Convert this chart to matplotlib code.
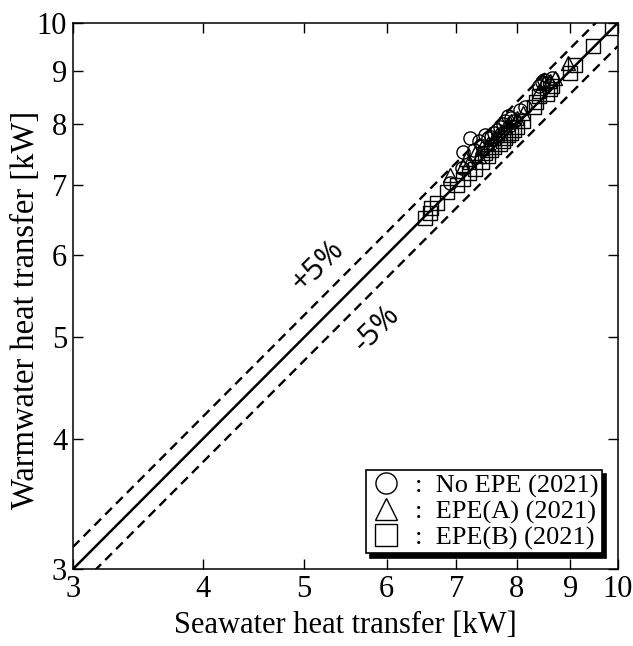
import numpy as np
import matplotlib
matplotlib.use("Agg")
import matplotlib.pyplot as plt
from matplotlib.ticker import FixedLocator, FixedFormatter, NullLocator

# ========= Warmwater vs Seawater heat transfer =========

no_epe_x = [6.90, 7.09, 7.10, 7.21, 7.28, 7.35, 7.40, 7.45, 7.50, 7.55, 7.60, 7.65,
            7.70, 7.75, 7.80, 7.85, 7.90, 7.95, 8.05, 8.15, 8.40, 8.45, 8.50, 8.55, 8.65]
no_epe_y = [7.02, 7.26, 7.52, 7.76, 7.55, 7.70, 7.62, 7.80, 7.75, 7.78, 7.85, 7.90,
            7.95, 8.00, 8.05, 8.15, 8.10, 8.05, 8.25, 8.30, 8.70, 8.78, 8.82, 8.75, 8.85]

epe_a_x = [6.90, 7.10, 7.15, 7.20, 7.30, 7.35, 7.40, 7.50, 7.60, 7.65, 7.70, 7.80,
           7.85, 7.90, 8.00, 8.10, 8.40, 8.50, 8.60, 8.70, 8.95]
epe_a_y = [7.15, 7.30, 7.40, 7.35, 7.50, 7.45, 7.60, 7.65, 7.75, 7.80, 7.85, 7.95,
           8.00, 8.05, 8.10, 8.20, 8.60, 8.75, 8.80, 8.85, 9.15]

epe_b_x = [6.53, 6.60, 6.62, 6.71, 6.86, 7.01, 7.10, 7.20, 7.30, 7.40, 7.45, 7.50,
           7.55, 7.60, 7.70, 7.75, 7.80, 7.85, 7.90, 7.95, 8.00, 8.10, 8.30, 8.35,
           8.40, 8.55, 8.60, 8.65, 9.00, 9.10, 9.46, 9.87]
epe_b_y = [6.50, 6.58, 6.65, 6.72, 6.88, 7.00, 7.08, 7.18, 7.25, 7.35, 7.50, 7.45,
           7.55, 7.60, 7.65, 7.70, 7.75, 7.80, 7.85, 7.90, 7.95, 8.05, 8.30, 8.40,
           8.50, 8.55, 8.65, 8.70, 8.95, 9.10, 9.50, 9.88]

ticks = [3, 4, 5, 6, 7, 8, 9, 10]
tick_labels = ["3", "4", "5", "6", "7", "8", "9", "10"]

plt.rcParams['font.family'] = ['Liberation Serif', 'DejaVu Serif']

fig = plt.figure(figsize=(6.33, 6.46), dpi=100)
ax = fig.add_axes([0.1149, 0.1187, 0.8614, 0.8462])
ax.set_xscale('log')
ax.set_yscale('log')

# --- reference lines ---
line = np.array([3, 10])
ax.plot(line, line, color='black', lw=1.8, zorder=2)
ax.plot(line, line * 1.05, color='black', lw=1.7, ls=(0, (4, 2.5)), zorder=2)
ax.plot(line, line * 0.95, color='black', lw=1.7, ls=(0, (4, 2.5)), zorder=2)

# --- data ---
mk = dict(ls='none', mfc='none', mec='black', mew=1.0, ms=9.5, zorder=3)
ax.plot(no_epe_x, no_epe_y, marker='o', label=':  No EPE (2021)', **mk)
ax.plot(epe_a_x, epe_a_y, marker='^', label=':  EPE(A) (2021)', **mk)
ax.plot(epe_b_x, epe_b_y, marker='s', label=':  EPE(B) (2021)', **mk)

ax.set_xlim(3, 10)
ax.set_ylim(3, 10)

for axis in (ax.xaxis, ax.yaxis):
    axis.set_major_locator(FixedLocator(ticks))
    axis.set_major_formatter(FixedFormatter(tick_labels))
    axis.set_minor_locator(NullLocator())

ax.tick_params(which='major', direction='in', length=7, width=1.0,
               top=True, right=True, labelsize=22, pad=4)
for s in ax.spines.values():
    s.set_linewidth(1.1)

ax.set_xlabel("Seawater heat transfer [kW]", fontsize=22, labelpad=5)
ax.set_ylabel("Warmwater heat transfer [kW]", fontsize=23.5)
ax.yaxis.set_label_coords(-0.058, 0.474)

# ---- +-5% annotations ----
ax.text(5.16, 5.85, "+5%", rotation=45, fontsize=22, family='Open Sans',
        ha='center', va='center')
ax.text(5.87, 5.10, "-5%", rotation=45, fontsize=22, family='Open Sans',
        ha='center', va='center')

leg = ax.legend(loc='lower right', fontsize=19, markerscale=1.6, frameon=True,
                fancybox=False, shadow={'color': 'black', 'alpha': 1, 'ox': 3, 'oy': -3},
                edgecolor='black', framealpha=1, handletextpad=0.5,
                handlelength=1.2, labelspacing=0.08, borderpad=0.15,
                borderaxespad=0.6)
leg.get_frame().set_linewidth(1.2)
for h in leg.legend_handles:
    h.set_markeredgewidth(1.0)

fig.savefig("out.png", dpi=100)
